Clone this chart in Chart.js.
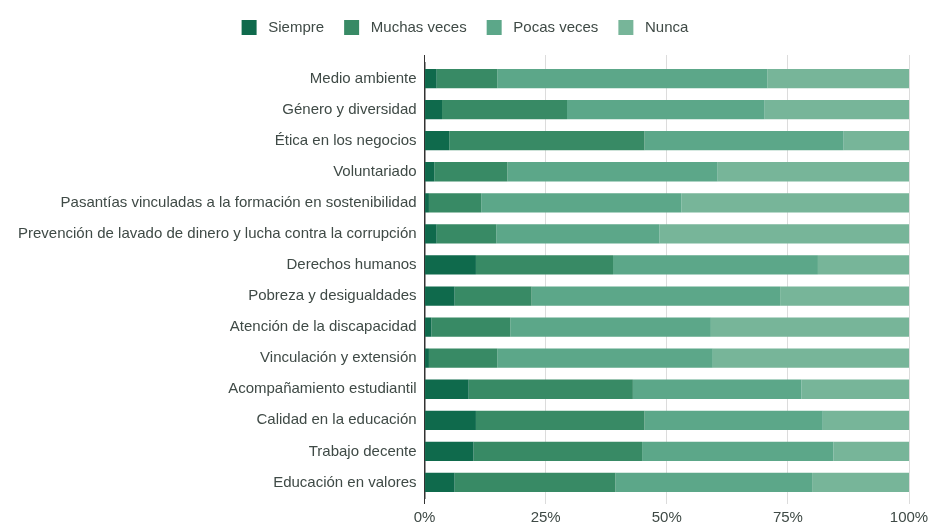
<!DOCTYPE html>
<html>
<head>
<meta charset="utf-8">
<script src="https://cdn.jsdelivr.net/npm/chart.js@4"></script>
<style>
  html, body { margin: 0; padding: 0; background: #fff; }
  #wrap { width: 930px; height: 525px; }
</style>
</head>
<body>
<div id="wrap"><canvas id="chart"></canvas></div>
<script>
const temas = [
  'Medio ambiente',
  'Género y diversidad',
  'Ética en los negocios',
  'Voluntariado',
  'Pasantías vinculadas a la formación en sostenibilidad',
  'Prevención de lavado de dinero y lucha contra la corrupción',
  'Derechos humanos',
  'Pobreza y desigualdades',
  'Atención de la discapacidad',
  'Vinculación y extensión',
  'Acompañamiento estudiantil',
  'Calidad en la educación',
  'Trabajo decente',
  'Educación en valores'
];

// porcentajes por tema (cada fila suma 100)
const siempre     = [2.5, 3.6, 5.1, 2.0, 0.9, 2.5, 10.6, 6.2, 1.4, 0.9, 9.1, 10.6, 10.1, 6.2];
const muchasVeces = [12.5, 25.8, 40.3, 15.1, 10.8, 12.3, 28.3, 15.9, 16.3, 14.1, 33.9, 34.8, 34.8, 33.2];
const pocasVeces  = [55.8, 40.8, 41.1, 43.4, 41.3, 33.7, 42.3, 51.3, 41.4, 44.5, 34.8, 36.8, 39.5, 40.6];
const nunca       = [29.2, 29.8, 13.5, 39.5, 47.0, 51.5, 18.8, 26.6, 40.9, 40.5, 22.2, 17.8, 15.6, 20.0];

const xTicks = [0, 25, 50, 75, 100];

const textColor = '#3f4a46';
const gridColor = '#dcdcdc';
const axisColor = '#333';

const ctx = document.getElementById('chart').getContext('2d');

function serie(label, data, color) {
  return {
    label: label,
    data: data,
    backgroundColor: color,
    borderWidth: 0,
    barPercentage: 0.62,
    categoryPercentage: 1
  };
}

// 0% line is the dark axis, the rest are light grid lines
const lineColor = c => (c.tick && c.tick.value === 0 ? axisColor : gridColor);

// leave some extra room between the legend and the bars
const legendGap = {
  id: 'legendGap',
  beforeInit(chart) {
    const fit = chart.legend.fit;
    chart.legend.fit = function () {
      fit.bind(chart.legend)();
      this.height += 10;
    };
  }
};

new Chart(ctx, {
  type: 'bar',
  data: {
    labels: temas,
    datasets: [
      serie('Siempre', siempre, '#0f6a4c'),
      serie('Muchas veces', muchasVeces, '#388a65'),
      serie('Pocas veces', pocasVeces, '#5ca789'),
      serie('Nunca', nunca, '#77b599')
    ]
  },
  plugins: [legendGap],
  options: {
    indexAxis: 'y',
    animation: false,
    responsive: true,
    maintainAspectRatio: false,
    layout: { padding: { left: 0, right: 0, top: 0, bottom: -7 } },
    plugins: {
      tooltip: { enabled: false },
      legend: {
        position: 'top',
        labels: {
          font: { family: 'Liberation Sans', size: 15 },
          color: textColor,
          boxWidth: 15,
          boxHeight: 15,
          padding: 20,
          // a bit more air between swatch and text
          generateLabels: chart => Chart.defaults.plugins.legend.labels.generateLabels(chart)
            .map(item => Object.assign(item, { text: ' ' + item.text }))
        }
      }
    },
    scales: {
      x: {
        stacked: true,
        min: 0,
        max: 100,
        afterBuildTicks: axis => { axis.ticks = xTicks.map(v => ({ value: v })); },
        // let the 100% label hang closer to the edge
        afterFit: axis => { axis.paddingRight = 21; },
        grid: { color: lineColor, tickLength: 6, drawTicks: true },
        border: { display: false },
        ticks: {
          font: { family: 'Liberation Sans', size: 15 },
          color: textColor,
          padding: 5,
          callback: v => v + '%'
        }
      },
      // only there so the grid lines poke out above the first bar
      xTop: {
        position: 'top',
        axis: 'x',
        min: 0,
        max: 100,
        afterBuildTicks: axis => { axis.ticks = xTicks.map(v => ({ value: v })); },
        grid: { color: lineColor, tickLength: 8, drawTicks: true, drawOnChartArea: false },
        border: { display: false },
        ticks: { display: false }
      },
      y: {
        stacked: true,
        afterFit: axis => { axis.width += 10; },
        grid: { display: false, drawTicks: false },
        border: { display: true, color: axisColor, width: 1.5 },
        ticks: {
          font: { family: 'Liberation Sans', size: 15 },
          color: textColor,
          padding: 8
        }
      }
    }
  }
});
</script>
</body>
</html>
